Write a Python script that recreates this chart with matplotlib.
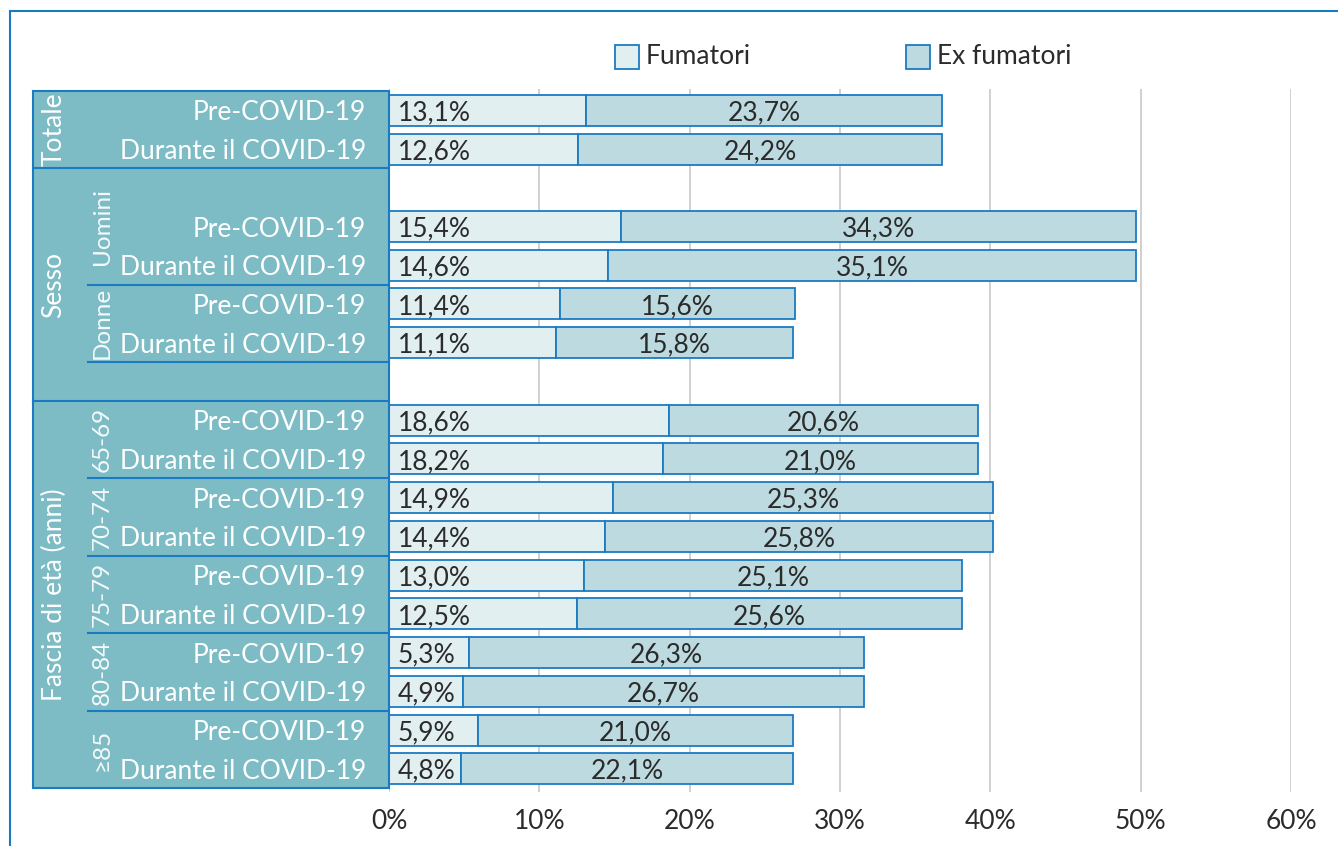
import matplotlib.pyplot as plt
from matplotlib.patches import Rectangle
import numpy as np

plt.rcParams['font.family'] = ['Lato', 'DejaVu Sans']

# one entry per bar, top to bottom; empty rows are skipped in bar_rows
periods = ["Pre-COVID-19", "Durante il COVID-19"] * 8
bar_rows = [0, 1, 3, 4, 5, 6, 8, 9, 10, 11, 12, 13, 14, 15, 16, 17]

fumatori = [13.1, 12.6, 15.4, 14.6, 11.4, 11.1, 18.6, 18.2, 14.9, 14.4,
            13.0, 12.5, 5.3, 4.9, 5.9, 4.8]
ex_fumatori = [23.7, 24.2, 34.3, 35.1, 15.6, 15.8, 20.6, 21.0, 25.3, 25.8,
               25.1, 25.6, 26.3, 26.7, 21.0, 22.1]

groups = ["Totale", "Sesso", "Fascia di età (anni)"]
group_spans = [(-0.5, 1.5), (1.5, 7.5), (7.5, 17.5)]
subgroups = ["Uomini", "Donne", "65-69", "70-74", "75-79", "80-84", "≥85"]
sub_spans = [(1.5, 4.5), (4.5, 6.5), (7.5, 9.5), (9.5, 11.5), (11.5, 13.5),
             (13.5, 15.5), (15.5, 17.5)]

c_fum = "#E2EFF1"
c_ex = "#BCDAE0"
c_edge = "#1B7BC2"
c_panel = "#7DBCC5"
c_text = "#2B2B2B"
fs = 19

W, H = 1338, 846
fig = plt.figure(figsize=(W / 100, H / 100), dpi=100)

ylo, yhi = 17.6, -0.55
top_px, bot_px = 89, 792
ax = fig.add_axes([389 / W, 1 - bot_px / H, (1291 - 389) / W, (bot_px - top_px) / H])
ax.set_xlim(0, 60)
ax.set_ylim(ylo, yhi)

y = np.array(bar_rows)
ax.barh(y, fumatori, height=0.8, color=c_fum, edgecolor=c_edge, linewidth=1.3, zorder=3)
ax.barh(y, ex_fumatori, left=fumatori, height=0.8, color=c_ex, edgecolor=c_edge,
        linewidth=1.3, zorder=3)

for yy, f, e in zip(y, fumatori, ex_fumatori):
    ax.annotate(f"{f:.1f}%".replace(".", ","), (0, yy), xytext=(6.5, 0),
                textcoords="offset points", ha="left", va="center_baseline",
                fontsize=fs, color=c_text, zorder=4)
    ax.text(f + e / 2, yy, f"{e:.1f}%".replace(".", ","), ha="center",
            va="center_baseline", fontsize=fs, color=c_text, zorder=4)

ax.set_xticks(range(0, 61, 10))
ax.set_xticklabels([f"{t}%" for t in range(0, 61, 10)], fontsize=fs, color=c_text)
ax.tick_params(axis="x", length=0, pad=12)
ax.set_yticks([])
ax.grid(axis="x", color="#C8C8C8", linewidth=1.2, zorder=0)
for s in ax.spines.values():
    s.set_visible(False)

# left label panel
lx0, lx1 = 33, 389
pan = fig.add_axes([lx0 / W, 1 - bot_px / H, (lx1 - lx0) / W, (bot_px - top_px) / H])
pan.set_xlim(lx0, lx1)
pan.set_ylim(ylo, yhi)
pan.axis("off")
pan.add_patch(Rectangle((lx0, -0.5), lx1 - lx0, 18, facecolor=c_panel,
                        edgecolor=c_edge, linewidth=1.5, clip_on=False))
for (a, b) in group_spans[1:]:
    pan.plot([lx0, lx1], [a, a], color=c_edge, linewidth=1.5, clip_on=False)
for (a, b) in sub_spans:
    if a in (1.5, 7.5):
        continue
    pan.plot([88, lx1], [a, a], color=c_edge, linewidth=1.5, clip_on=False)
pan.plot([88, lx1], [6.5, 6.5], color=c_edge, linewidth=1.5, clip_on=False)

for name, (a, b) in zip(groups, group_spans):
    pan.text(54, (a + b) / 2, name, rotation=90, ha="center", va="center",
             fontsize=fs, color="white")
for name, (a, b) in zip(subgroups, sub_spans):
    pan.text(102, (a + b) / 2, name, rotation=90, ha="center", va="center",
             fontsize=17.5, color="#F4FAFB")
for r, p in zip(bar_rows, periods):
    pan.text(366, r, p, ha="right", va="center_baseline", fontsize=fs, color="white")

# legend
for x0, lab, col in [(615, "Fumatori", c_fum), (906, "Ex fumatori", c_ex)]:
    fig.patches.append(Rectangle((x0 / W, 1 - 69 / H), 24 / W, 24 / H,
                                 transform=fig.transFigure, facecolor=col,
                                 edgecolor=c_edge, linewidth=1.3))
    fig.text((x0 + 31) / W, 1 - 57 / H, lab, ha="left", va="center",
             fontsize=fs, color=c_text)

# outer frame
fig.patches.append(Rectangle((10 / W, -0.1), 1.2, 1 - 11 / H + 0.1,
                             transform=fig.transFigure, fill=False,
                             edgecolor=c_edge, linewidth=1.5))

fig.savefig("out.png", dpi=100)
